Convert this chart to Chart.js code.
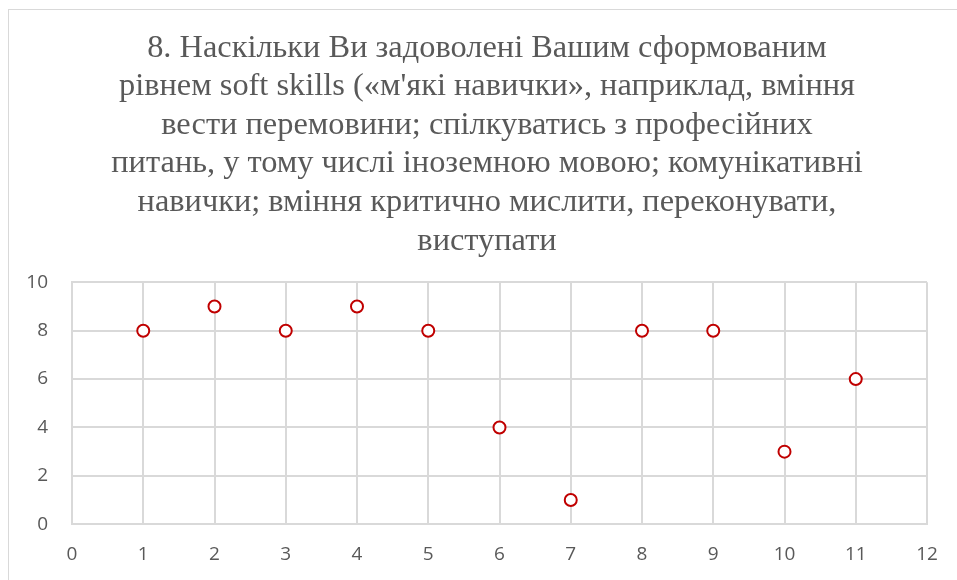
<!DOCTYPE html>
<html>
<head>
<meta charset="utf-8">
<script src="https://cdn.jsdelivr.net/npm/chart.js@4/dist/chart.umd.min.js"></script>
<style>
  html, body { margin: 0; padding: 0; background: #fff; overflow: hidden; }
  #frame { position: absolute; left: 8px; top: 9px; width: 1000px; height: 1000px; border: 1px solid #d9d9d9; box-sizing: border-box; }
  #wrap { position: absolute; left: 0; top: 0; width: 957px; height: 580px; }
</style>
</head>
<body>
<div id="frame"></div>
<div id="wrap"><canvas id="c" width="957" height="580"></canvas></div>
<script>
const titleLines = [
  "8. Наскільки Ви задоволені Вашим сформованим",
  "рівнем soft skills («м'які навички», наприклад, вміння",
  "вести перемовини; спілкуватись з професійних",
  "питань, у тому числі іноземною мовою; комунікативні",
  "навички; вміння критично мислити, переконувати,",
  "виступати"
];
const xValues = [1, 2, 3, 4, 5, 6, 7, 8, 9, 10, 11];
const yValues = [8, 9, 8, 9, 8, 4, 1, 8, 8, 3, 6];
const xTicks = [0, 1, 2, 3, 4, 5, 6, 7, 8, 9, 10, 11, 12];
const yTicks = [0, 2, 4, 6, 8, 10];

const points = xValues.map((x, i) => ({ x: x, y: yValues[i] }));

new Chart(document.getElementById('c'), {
  type: 'scatter',
  data: {
    datasets: [{
      data: points,
      pointStyle: 'circle',
      pointRadius: 6,
      pointHoverRadius: 6,
      pointBorderWidth: 2,
      pointBorderColor: '#C00000',
      pointBackgroundColor: '#ffffff'
    }]
  },
  options: {
    responsive: false,
    animation: false,
    layout: { padding: { left: 17, right: 0, top: 0, bottom: -5 } },
    plugins: {
      legend: { display: false },
      tooltip: { enabled: false },
      title: {
        display: true,
        text: titleLines,
        color: '#595959',
        font: { family: 'Liberation Serif', size: 32.4, weight: 'normal', lineHeight: 1.19 },
        padding: { top: 29, bottom: 22 }
      }
    },
    scales: {
      x: {
        type: 'linear',
        min: 0, max: 12,
        afterBuildTicks: (s) => { s.ticks = xTicks.map(v => ({ value: v })); },
        grid: { color: '#d9d9d9', lineWidth: 2, drawTicks: false },
        border: { color: '#d9d9d9', width: 2 },
        ticks: { color: '#595959', font: { family: 'Open Sans', size: 19 }, padding: 19 }
      },
      y: {
        type: 'linear',
        min: 0, max: 10,
        afterBuildTicks: (s) => { s.ticks = yTicks.map(v => ({ value: v })); },
        afterFit: (s) => { s.width = 55; },
        grid: { color: '#d9d9d9', lineWidth: 2, drawTicks: false },
        border: { color: '#d9d9d9', width: 2 },
        ticks: { color: '#595959', font: { family: 'Open Sans', size: 19 }, padding: 24 }
      },
      yRight: {
        type: 'linear',
        position: 'right',
        display: true,
        min: 0, max: 10,
        afterFit: (s) => { s.width = 30; },
        grid: { display: false, drawOnChartArea: false },
        border: { display: false },
        ticks: { display: false }
      }
    }
  }
});
</script>
</body>
</html>
